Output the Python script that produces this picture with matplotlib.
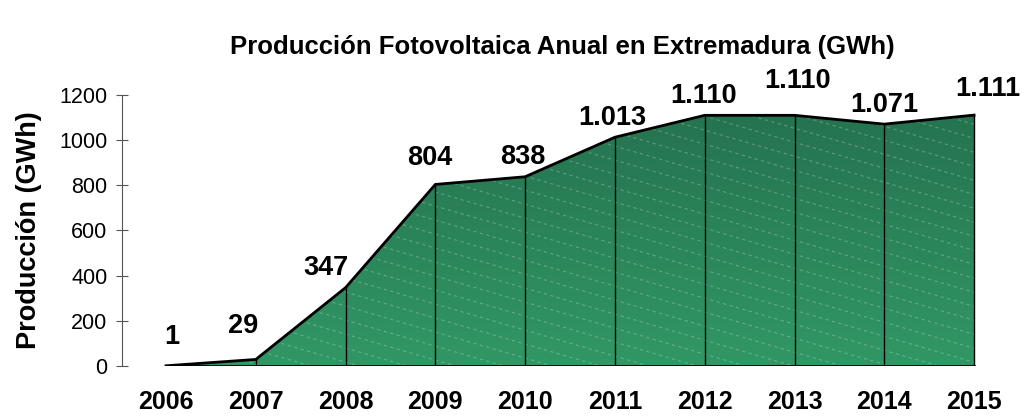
import matplotlib.pyplot as plt
import numpy as np
from matplotlib.collections import LineCollection
from matplotlib.patches import Polygon

plt.rcParams['font.family'] = ['Liberation Sans', 'DejaVu Sans']

# data
years = [2006, 2007, 2008, 2009, 2010, 2011, 2012, 2013, 2014, 2015]
produccion = [1, 29, 347, 804, 838, 1013, 1110, 1110, 1071, 1111]
etiquetas = ['1', '29', '347', '804', '838', '1.013', '1.110', '1.110', '1.071', '1.111']
# label offsets in points (dx, dy) from each point
label_dx = [4, -9, -14, -4, -2, -2, -1, 2, 0, 10]
label_dy = [21, 24, 14, 19, 14, 14, 14, 25, 14, 19]
yticks = [0, 200, 400, 600, 800, 1000, 1200]

fig = plt.figure(figsize=(10.35, 4.18), dpi=100)
ax = fig.add_axes([122/1035, 52/418, 888/1035, 271/418])
ax.set_xlim(2005.51, 2015.4)
ax.set_ylim(0, 1200)

xs = np.array(years, dtype=float)
ys = np.array(produccion, dtype=float)

# polygon for the area
verts = [(xs[0], 0)] + list(zip(xs, ys)) + [(xs[-1], 0)]
poly = Polygon(verts, closed=True, facecolor='none', edgecolor='none')
ax.add_patch(poly)

# vertical gradient fill
grad = np.linspace(0, 1, 256).reshape(-1, 1)
c_bot = np.array([0x31, 0x97, 0x65]) / 255
c_top = np.array([0x24, 0x70, 0x4e]) / 255
img = c_bot + (c_top - c_bot) * grad[..., None]
im = ax.imshow(img, extent=[xs[0], xs[-1], 0, 1200], origin='lower',
               aspect='auto', zorder=1)
im.set_clip_path(poly)

# faint diagonal dashed hatch lines (slope ~ -0.29 px/px)
px_x = 808 / 9      # px per year
px_y = 271 / 1200   # px per GWh
slope = -0.29 * px_x / px_y
spacing = 14 / px_y
segs = []
for b in np.arange(0, 1200 - slope * 9 + spacing, spacing):
    segs.append([(xs[0], b), (xs[-1], b + slope * (xs[-1] - xs[0]))])
lc = LineCollection(segs, colors=(1, 1, 1, 0.25), linewidths=0.8,
                    linestyles=(0, (3, 3)), zorder=2)
ax.add_collection(lc)
lc.set_clip_path(poly)

# vertical separators
ax.vlines(xs[1:], 0, ys[1:], colors='black', linewidth=1.0, zorder=3)
# top line and baseline
ax.plot(xs, ys, color='black', linewidth=2.0, zorder=4, solid_joinstyle='miter')
ax.plot([xs[0], xs[-1]], [0, 0], color='black', linewidth=2.0, zorder=4)

for x, y, t, dx, dy in zip(xs, ys, etiquetas, label_dx, label_dy):
    ax.annotate(t, (x, y), xytext=(dx, dy), textcoords='offset points',
                ha='center', va='center', fontsize=19.5, fontweight='bold',
                annotation_clip=False)

for s in ['top', 'right', 'bottom']:
    ax.spines[s].set_visible(False)
ax.spines['left'].set_color('#555555')
ax.set_yticks(yticks)
ax.set_yticklabels([str(v) for v in yticks], fontsize=15.5)
ax.tick_params(axis='y', direction='inout', length=9, width=0.8,
               color='#555555', pad=6)
ax.set_xticks(years)
ax.set_xticklabels([str(v) for v in years], fontsize=18, fontweight='bold')
ax.tick_params(axis='x', length=0, pad=17)

ax.set_ylabel('Producción (GWh)', fontsize=19.5, fontweight='bold', labelpad=12)
fig.text(562/1035, 1 - 47/418, 'Producción Fotovoltaica Anual en Extremadura (GWh)',
         ha='center', va='center', fontsize=18.5, fontweight='bold')

fig.savefig('out.png', dpi=100)
